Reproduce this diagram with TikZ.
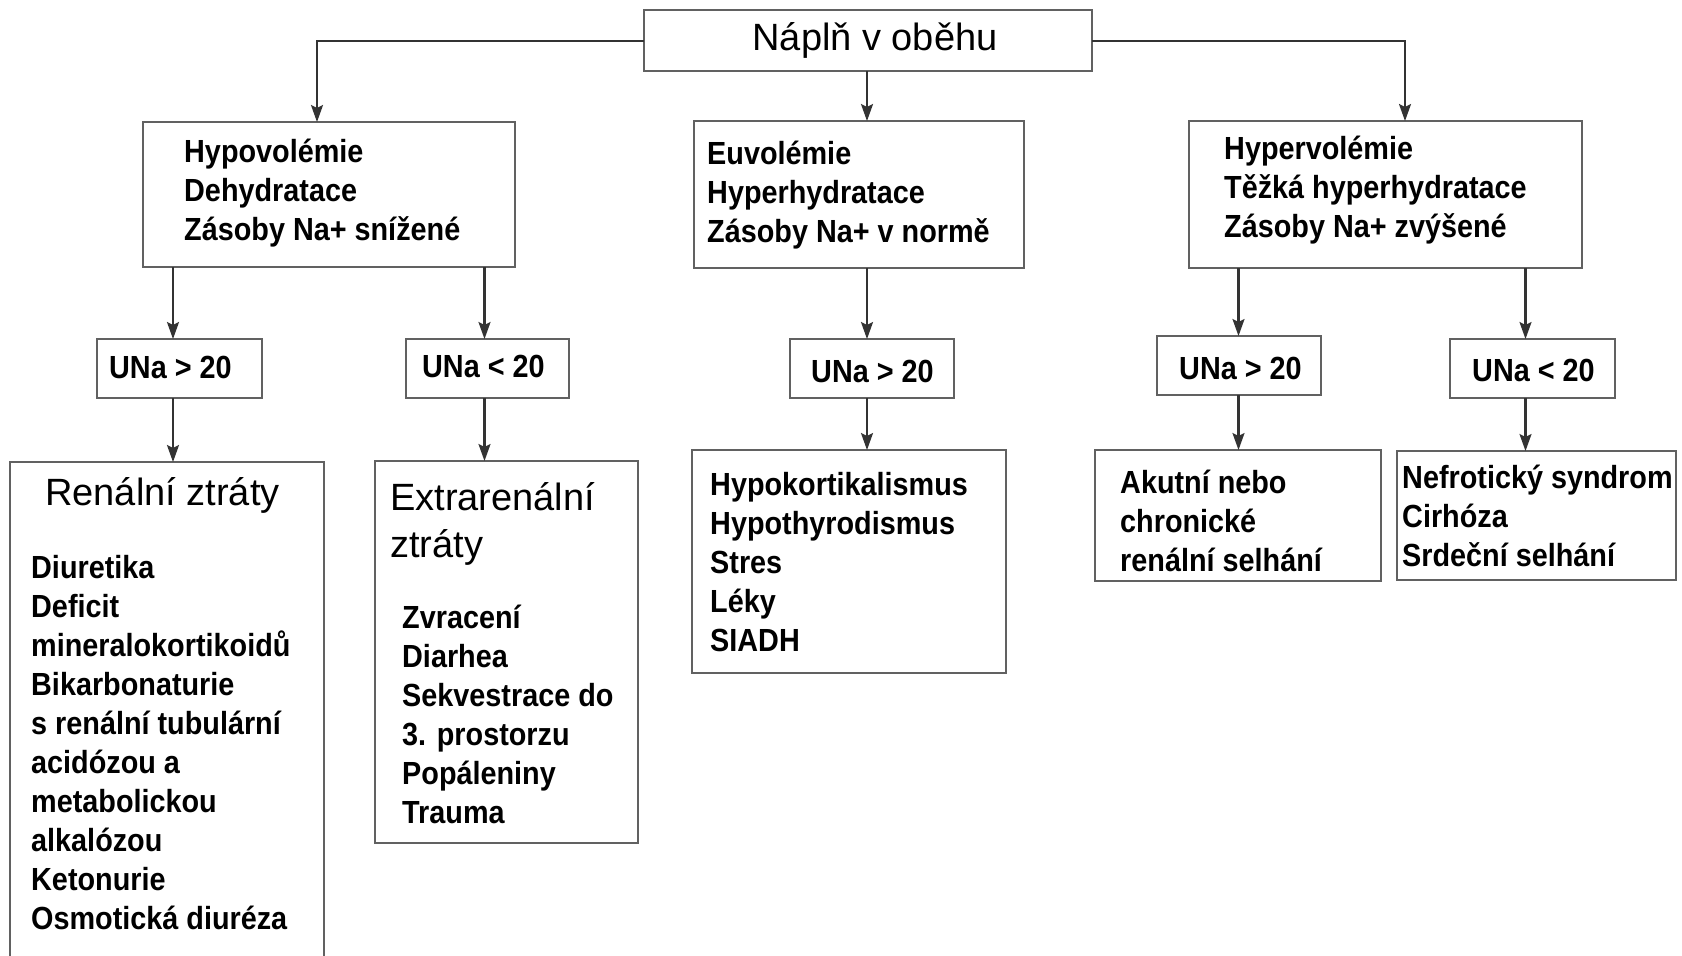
\documentclass[tikz,border=0pt]{standalone}
\usepackage{fontspec}
\setmainfont{Liberation Sans}
\newfontfamily\nbfont{Liberation Sans}[FakeStretch=0.9]
\usetikzlibrary{arrows.meta}
\begin{document}
\begin{tikzpicture}[x=1pt,y=-1pt,
 box/.style={draw=black!62, line width=2pt, anchor=north west, inner sep=0pt, outer sep=0pt},
 btxt/.style={anchor=base west, inner sep=0pt, align=left, font=\nbfont\bfseries\fontsize{32}{39}\selectfont, text=black},
 rtxt/.style={anchor=base west, inner sep=0pt, align=left, font=\fontsize{38}{47}\selectfont, text=black},
 arr/.style={draw=black!80, line width=2.2pt, -{Stealth[length=17pt,width=12pt,inset=3pt]}}]
\fill[white] (0,0) rectangle (1682,956);
\useasboundingbox (0,0) rectangle (1682,956);
\clip (0,0) rectangle (1682,956);

% boxes
\node[box, minimum width=448pt, minimum height=61pt] (top) at (644,10) {};
\node[box, minimum width=372pt, minimum height=145pt] (hypo) at (143,122) {};
\node[box, minimum width=330pt, minimum height=147pt] (euvo) at (694,121) {};
\node[box, minimum width=393pt, minimum height=147pt] (hyper) at (1189,121) {};
\node[box, minimum width=165pt, minimum height=59pt] (una1) at (97,339) {};
\node[box, minimum width=163pt, minimum height=59pt] (una2) at (406,339) {};
\node[box, minimum width=164pt, minimum height=59pt] (una3) at (790,339) {};
\node[box, minimum width=164pt, minimum height=59pt] (una4) at (1157,336) {};
\node[box, minimum width=165pt, minimum height=59pt] (una5) at (1450,339) {};
\node[box, minimum width=314pt, minimum height=520pt] (ren) at (10,462) {};
\node[box, minimum width=263pt, minimum height=382pt] (ext) at (375,461) {};
\node[box, minimum width=314pt, minimum height=223pt] (hypok) at (692,450) {};
\node[box, minimum width=286pt, minimum height=131pt] (akut) at (1095,450) {};
\node[box, minimum width=279pt, minimum height=129pt] (nef) at (1397,451) {};

% texts (base anchor = baseline of the last line)
\node[rtxt, anchor=base] (ttop) at (875,50) {Náplň v oběhu};
\node[btxt] (thypo) at (184,240) {Hypovolémie\\Dehydratace\\Zásoby Na+ snížené};
\node[btxt] (teuvo) at (707,242) {Euvolémie\\Hyperhydratace\\Zásoby Na+ v normě};
\node[btxt] (thyper) at (1224,237) {Hypervolémie\\Těžká hyperhydratace\\Zásoby Na+ zvýšené};
\node[btxt] (tuna1) at (109,378) {UNa > 20};
\node[btxt] (tuna2) at (422,377) {UNa < 20};
\node[btxt] (tuna3) at (811,382) {UNa > 20};
\node[btxt] (tuna4) at (1179,379) {UNa > 20};
\node[btxt] (tuna5) at (1472,381) {UNa < 20};
\node[rtxt] (tren) at (45,505) {Renální ztráty};
\node[btxt] (lren) at (31,929) {Diuretika\\Deficit\\mineralokortikoidů\\Bikarbonaturie\\s renální tubulární\\acidózou a\\metabolickou\\alkalózou\\Ketonurie\\Osmotická diuréza};
\node[rtxt] (text) at (390,557) {Extrarenální\\ztráty};
\node[btxt] (lext) at (402,823) {Zvracení\\Diarhea\\Sekvestrace do\\3. prostorzu\\Popáleniny\\Trauma};
\node[btxt] (lhypok) at (710,651) {Hypokortikalismus\\Hypothyrodismus\\Stres\\Léky\\SIADH};
\node[btxt] (lakut) at (1120,571) {Akutní nebo\\chronické\\renální selhání};
\node[btxt] (lnef) at (1402,566) {Nefrotický syndrom\\Cirhóza\\Srdeční selhání};

% connector columns
\coordinate (kL) at (317,41);
\coordinate (kR) at (1405,41);
\coordinate (xm) at (867,0);
\coordinate (x1) at (173,0);
\coordinate (x2) at (484.5,0);
\coordinate (x4) at (1238.5,0);
\coordinate (x5) at (1525.5,0);

\draw[arr] (top.west |- kL) -- (kL) -- (hypo.north -| kL);
\draw[arr] (top.south -| xm) -- (euvo.north -| xm);
\draw[arr] (top.east |- kR) -- (kR) -- (hyper.north -| kR);
\draw[arr] (hypo.south -| x1) -- (una1.north -| x1);
\draw[arr] (una1.south -| x1) -- (ren.north -| x1);
\draw[arr] (hypo.south -| x2) -- (una2.north -| x2);
\draw[arr] (una2.south -| x2) -- (ext.north -| x2);
\draw[arr] (euvo.south -| xm) -- (una3.north -| xm);
\draw[arr] (una3.south -| xm) -- (hypok.north -| xm);
\draw[arr] (hyper.south -| x4) -- (una4.north -| x4);
\draw[arr] (una4.south -| x4) -- (akut.north -| x4);
\draw[arr] (hyper.south -| x5) -- (una5.north -| x5);
\draw[arr] (una5.south -| x5) -- (nef.north -| x5);
\end{tikzpicture}
\end{document}
